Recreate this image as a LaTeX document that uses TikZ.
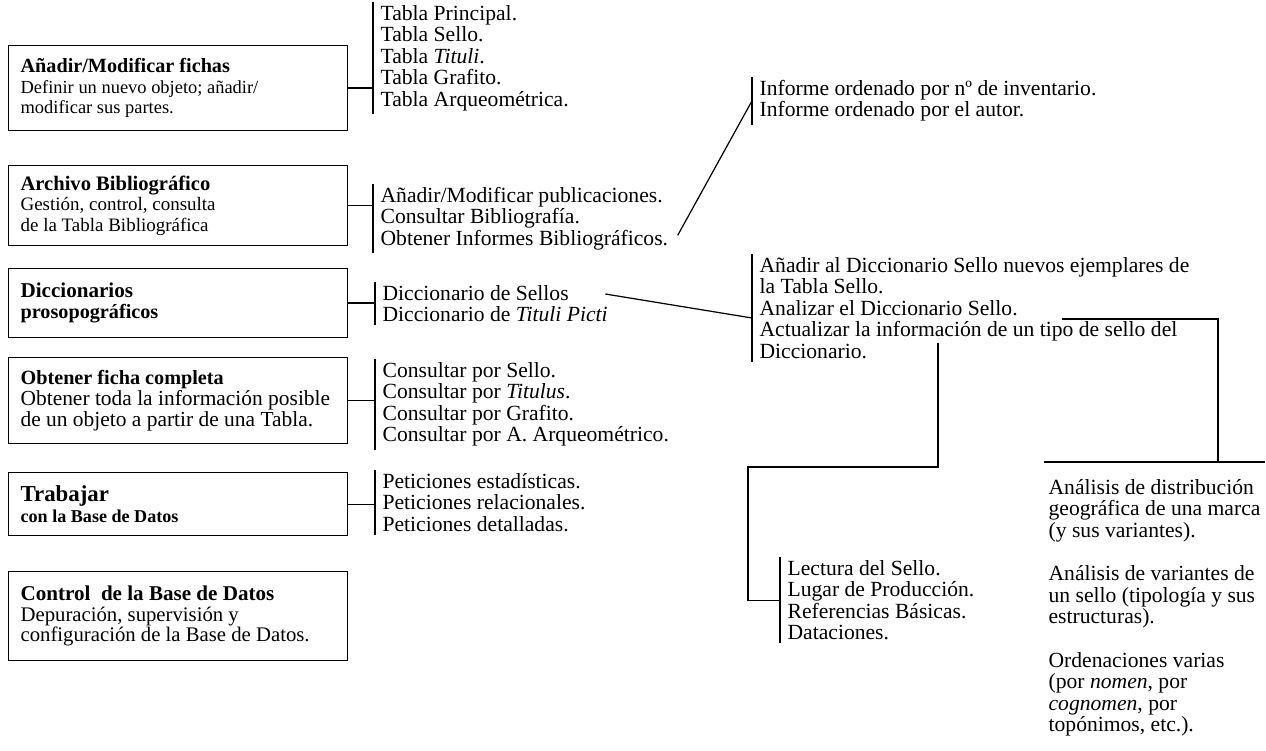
\documentclass[tikz,border=0pt]{standalone}
\usepackage{fontspec}
\setmainfont{Liberation Serif}
\usetikzlibrary{positioning,calc}

\newcommand{\txt}[1]{\fontsize{#1}{11.7}\selectfont\lineskiplimit=-50pt\relax}
\newcommand{\hd}[2]{{\fontsize{#1}{11.7}\selectfont\bfseries #2}}
\newcommand{\lst}{\fontsize{12.3}{12.3}\selectfont\lineskiplimit=-50pt\relax}

\begin{document}
\begin{tikzpicture}[x=0.02cm, y=-0.02cm, line width=0.7pt,
    box/.style={rectangle, draw, anchor=north west, minimum width=6.78cm,
                text width=6.3cm, align=flush left, inner xsep=0.24cm},
    list/.style={anchor=north west, align=flush left, inner xsep=0.14cm,
                 inner ysep=0.05cm, font=\lst}]

\useasboundingbox (0,0) rectangle (1266,750);

% Menu boxes
\node[box, minimum height=1.7cm, font=\txt{10.5}] (fichas) at (8,45)
    {\hd{11.5}{Añadir/Modificar fichas}\\ Definir un nuevo objeto; añadir/\\ modificar sus partes.};
\node[box, minimum height=1.6cm, font=\txt{10.8}] (biblio) at (8,165)
    {\hd{11.7}{Archivo Bibliográfico}\\ Gestión, control, consulta\\ de la Tabla Bibliográfica};
\node[box, minimum height=1.38cm, font=\txt{11}] (dicc) at (8,268)
    {\hd{12}{Diccionarios}\\ \hd{11.5}{prosopográficos}};
\node[box, minimum height=1.72cm, font=\txt{12.2}] (ficha) at (8,357)
    {\hd{11.5}{Obtener ficha completa}\\ Obtener toda la información posible\\ de un objeto a partir de una Tabla.};
\node[box, minimum height=1.26cm, font=\txt{11}] (trabajar) at (8,472)
    {\hd{13}{Trabajar}\\ \hd{10.3}{con la Base de Datos}};
\node[box, minimum height=1.78cm, font=\txt{11.8}] (control) at (8,571)
    {\hd{12}{Control~ de la Base de Datos}\\ Depuración, supervisión y\\ configuración de la Base de Datos.};

% Option lists
\node[list] (tablas) at (373,2)
    {Tabla Principal.\\ Tabla Sello.\\ Tabla \textit{Tituli}.\\ Tabla Grafito.\\ Tabla Arqueométrica.};
\node[list] (publ) at (373,184)
    {Añadir/Modificar publicaciones.\\ Consultar Bibliografía.\\ Obtener Informes Bibliográficos.};
\node[list] (informes) at (752,77)
    {Informe ordenado por nº de inventario.\\ Informe ordenado por el autor.};
\node[list] (dicls) at (375,282)
    {Diccionario de Sellos\\ Diccionario de \textit{Tituli Picti}};
\node[list] (sello) at (752,254)
    {Añadir al Diccionario Sello nuevos ejemplares de\\ la Tabla Sello.\\ Analizar el Diccionario Sello.\\
     Actualizar la información de un tipo de sello del\\ Diccionario.};
\node[list] (consultas) at (375,359)
    {Consultar por Sello.\\ Consultar por \textit{Titulus}.\\ Consultar por Grafito.\\ Consultar por A. Arqueométrico.};
\node[list] (peticiones) at (375,470)
    {Peticiones estadísticas.\\ Peticiones relacionales.\\ Peticiones detalladas.};
\node[list] (lectura) at (780,557)
    {Lectura del Sello.\\ Lugar de Producción.\\ Referencias Básicas.\\ Dataciones.};
\node[list, inner xsep=0.08cm, inner ysep=0.33cm] (analisis) at (1044,462)
    {Análisis de distribución\\ geográfica de una marca\\ (y sus variantes).\\[12.3pt]
     Análisis de variantes de\\ un sello (tipología y sus\\ estructuras).\\[12.3pt]
     Ordenaciones varias\\ (por \textit{nomen}, por\\ \textit{cognomen}, por\\ topónimos, etc.).};

% Bars
\foreach \l in {tablas,publ,informes,dicls,sello,consultas,peticiones,lectura}
    \draw (\l.north west) -- (\l.south west);

% Box links
\foreach \b/\l in {fichas/tablas,biblio/publ,dicc/dicls,ficha/consultas,trabajar/peticiones}
    \draw (\b.east) -- (\b.east -| \l.west);

% Sub-links
\draw ($(publ.south east)+(2,-18)$) -- (informes.west);
\draw ($(dicls.north east)+(-10,12)$) -- ($(sello.west)+(0,10)$);

\coordinate (an) at (1062,319);
\coordinate (ak) at (1218,319);
\draw (an) -- (ak) -- (ak |- analisis.north);
\draw (analisis.north west) -- (analisis.north east);

\coordinate (k1) at (938,343);
\coordinate (k2) at (748,467);
\draw (k1) |- (k2) |- (lectura.west);
\end{tikzpicture}
\end{document}
